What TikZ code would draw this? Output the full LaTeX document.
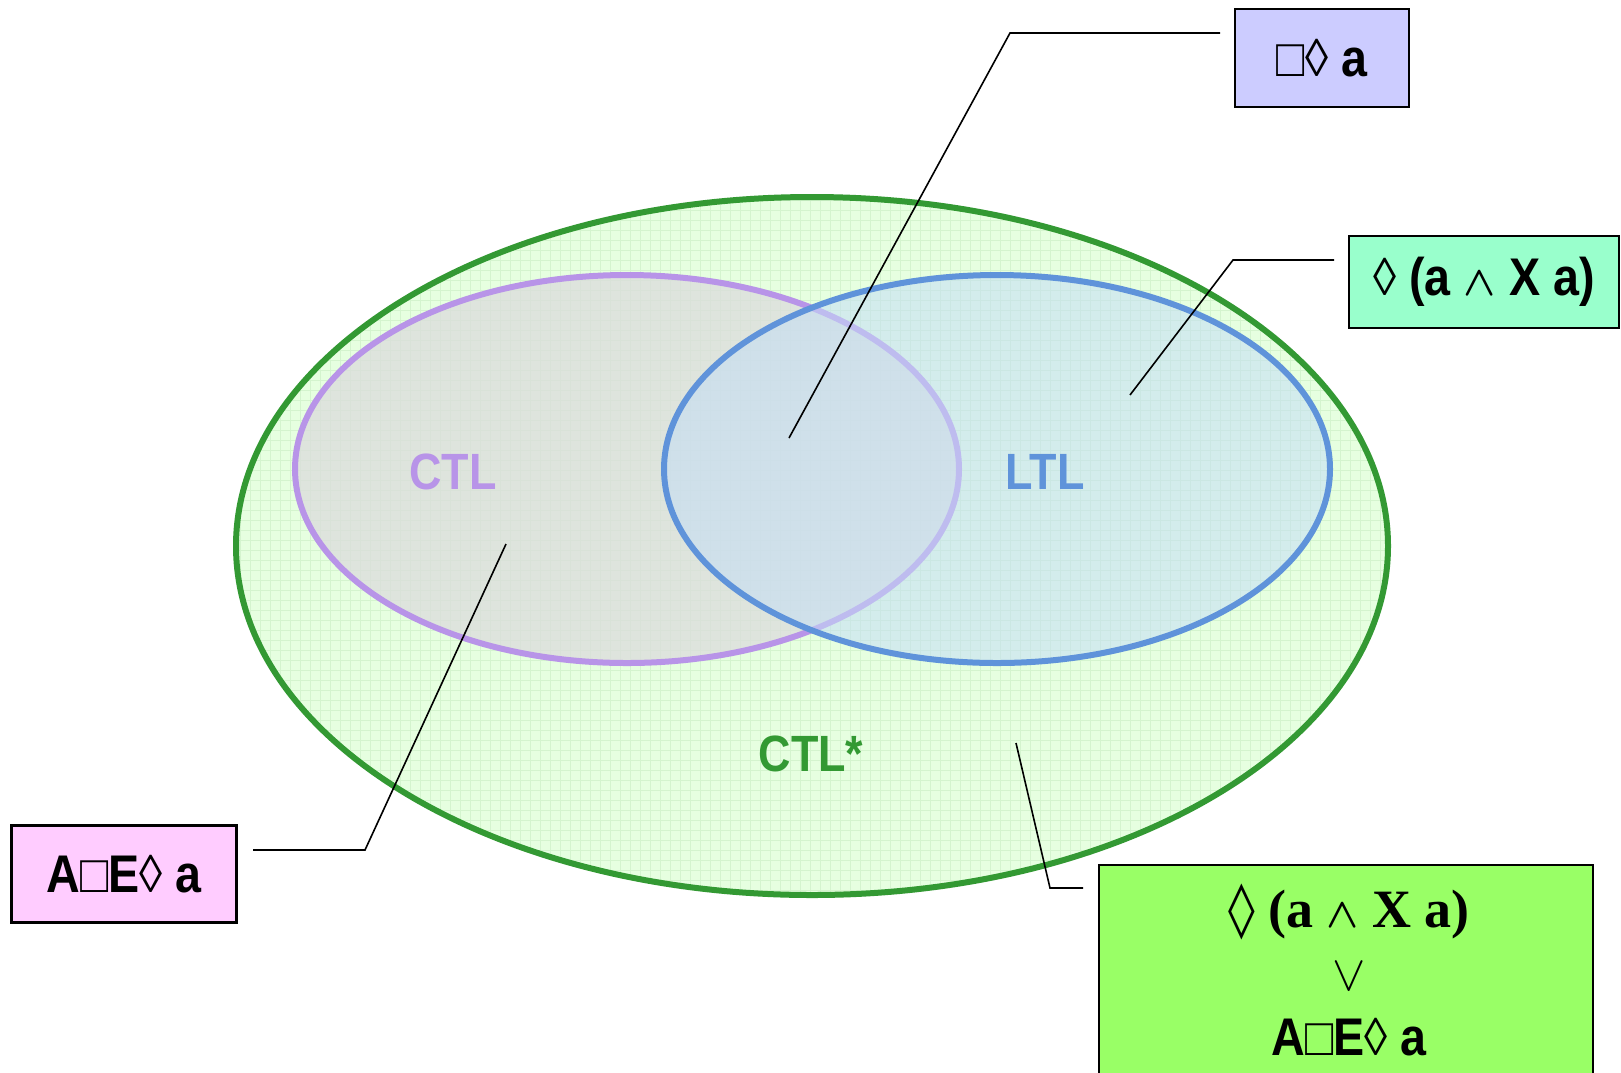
\RequirePackage{fix-cm}
\documentclass[tikz,border=0pt]{standalone}
\usepackage{fontspec}
\setmainfont{Liberation Sans}
\newfontfamily\narrow[FakeStretch=0.88]{Liberation Sans}
\newfontfamily\serifb{Liberation Serif}
\newfontfamily\sym{DejaVu Sans}
\definecolor{outerfill}{HTML}{E6FFE0}
\definecolor{outerline}{HTML}{339933}
\definecolor{gridc}{HTML}{D4F4CE}
\definecolor{ctlline}{HTML}{B894E8}
\definecolor{ctlfill}{HTML}{DCDCDC}
\definecolor{ltlline}{HTML}{5F93DA}
\definecolor{ltlfill}{HTML}{C4DDF6}
\definecolor{boxA}{HTML}{CCCCFF}
\definecolor{boxB}{HTML}{99FFCC}
\definecolor{boxC}{HTML}{FFCCFF}
\definecolor{boxD}{HTML}{99FF66}
\newcommand{\lozg}{{\mdseries ◊}}
\newcommand{\sqg}{{\mdseries □}}
\newcommand{\wedg}{{\fontsize{42}{48}\selectfont\boldmath$\wedge$}}
\begin{document}
\begin{tikzpicture}[x=1pt,y=-1pt,
  boxstyle/.style={draw=black, line width=2.2pt, inner sep=0pt, font=\narrow\bfseries\fontsize{53}{60}\selectfont, align=center},
  conn/.style={draw=black, line width=1.6pt},
  setlabel/.style={font=\narrow\bfseries\fontsize{51}{60}\selectfont}]
\useasboundingbox (0,0) rectangle (1621,1072);
% outer ellipse CTL*
\fill[outerfill] (812,546) ellipse [x radius=576, y radius=349];
\begin{scope}
\clip (812,546) ellipse [x radius=576, y radius=349];
\draw[gridc, line width=0.6pt, step=10pt] (230,900) grid (1400,190);
\end{scope}
\draw[outerline, line width=6pt] (812,546) ellipse [x radius=576, y radius=349];
% CTL ellipse
\fill[ctlfill, fill opacity=0.75] (627,469) ellipse [x radius=332, y radius=194];
\draw[ctlline, line width=6pt] (627,469) ellipse [x radius=332, y radius=194];
% LTL ellipse
\fill[ltlfill, fill opacity=0.55] (997,469) ellipse [x radius=333, y radius=194];
\draw[ltlline, line width=6pt] (997,469) ellipse [x radius=333, y radius=194];
% set labels
\node[setlabel, text=ctlline] (ctl) at (453,472) {CTL};
\node[setlabel, text=ltlline] (ltl) at (1045,472) {LTL};
\node[setlabel, text=outerline] (ctls) at (811,754) {CTL*};
% boxes
\node[boxstyle, fill=boxA, minimum width=174pt, minimum height=98pt] (bA) at (1322,58) {\sqg\lozg\ a};
\node[boxstyle, fill=boxB, minimum width=270pt, minimum height=92pt] (bB) at (1484,282) {\lozg\ (a \wedg\ X a)};
\node[boxstyle, fill=boxC, minimum width=225pt, minimum height=97pt] (bC) at (124,874) {A\sqg E\lozg\ a};
\node[boxstyle, fill=boxD, minimum width=494pt, minimum height=240pt, anchor=north west] (bD) at (1098,864) {};
\node[font=\serifb\bfseries\fontsize{54}{60}\selectfont] (dl1) at (1349,912) {\sym\lozg\serifb\ (a \wedg\ X a)};
\node[font=\fontsize{50}{56}\selectfont] (dl2) at (1349,977) {$\vee$};
\node[font=\narrow\bfseries\fontsize{53}{60}\selectfont] (dl3) at (1349,1037) {A\sqg E\lozg\ a};
% connectors
\coordinate (a1) at (1220,33); \coordinate (a2) at (1010,33); \coordinate (a3) at (789,438);
\draw[conn] (a1) -- (a2) -- (a3);
\coordinate (b1) at (1334,260); \coordinate (b2) at (1233,260); \coordinate (b3) at (1130,395);
\draw[conn] (b1) -- (b2) -- (b3);
\coordinate (c1) at (253,850); \coordinate (c2) at (365,850); \coordinate (c3) at (506,544);
\draw[conn] (c1) -- (c2) -- (c3);
\coordinate (d1) at (1083,888); \coordinate (d2) at (1050,888); \coordinate (d3) at (1016,743);
\draw[conn] (d1) -- (d2) -- (d3);
\end{tikzpicture}
\end{document}
